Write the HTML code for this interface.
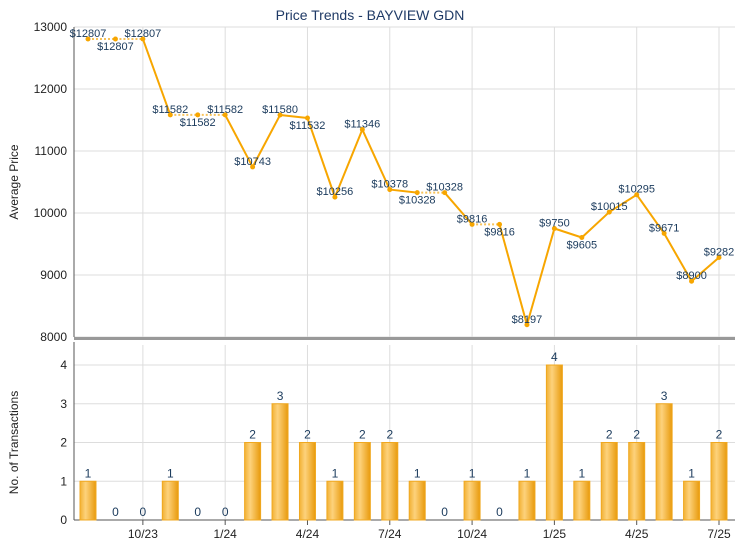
<!DOCTYPE html>
<html><head><meta charset="utf-8"><style>
body{margin:0;background:#fff;}
svg{font-family:"Liberation Sans",sans-serif;}
</style></head><body>
<svg id="c" width="740" height="550">
<defs>
<linearGradient id="bg" x1="0" x2="1" y1="0" y2="0">
<stop offset="0" stop-color="#f2b134"/><stop offset="0.35" stop-color="#fdd27c"/><stop offset="1" stop-color="#e89a0c"/>
</linearGradient>
</defs>
<g id="g"></g>
</svg>
<script>
const months=["8/23","9/23","10/23","11/23","12/23","1/24","2/24","3/24","4/24","5/24","6/24","7/24","8/24","9/24","10/24","11/24","12/24","1/25","2/25","3/25","4/25","5/25","6/25","7/25"];
const prices=[12807,12807,12807,11582,11582,11582,10743,11580,11532,10256,11346,10378,10328,10328,9816,9816,8197,9750,9605,10015,10295,9671,8900,9282];
const counts=[1,0,0,1,0,0,2,3,2,1,2,2,1,0,1,0,1,4,1,2,2,3,1,2];
const priceTicks=[8000,9000,10000,11000,12000,13000];
const countTicks=[0,1,2,3,4];
const xLabels=["10/23","1/24","4/24","7/24","10/24","1/25","4/25","7/25"];
const labelPos=["a","b","a","a","b","a","a","a","b","a","a","a","b","a","a","b","a","a","b","a","a","a","a","a"];

const NS="http://www.w3.org/2000/svg";
const g=document.getElementById('g');
function mk(t,a,p){const e=document.createElementNS(NS,t);for(const k in a)e.setAttribute(k,a[k]);(p||g).appendChild(e);return e;}
const L=74,R=735,x0=88,step=(719-88)/23;
const x=i=>x0+i*step;
const yP=v=>337-(v-8000)*62/1000;
const yC=v=>520-v*38.75;

let t=mk('text',{x:370,y:20,'text-anchor':'middle','font-size':14,fill:'#1f3a66'});t.textContent="Price Trends - BAYVIEW GDN";


priceTicks.forEach(v=>{mk('line',{x1:L,x2:R,y1:yP(v),y2:yP(v),stroke:'#ddd'});
let tt=mk('text',{x:L-7,y:yP(v)+4,'text-anchor':'end','font-size':12,fill:'#222'});tt.textContent=v;
});
countTicks.forEach(v=>{mk('line',{x1:L,x2:R,y1:yC(v),y2:yC(v),stroke:'#ddd'});
let tt=mk('text',{x:L-7,y:yC(v)+4,'text-anchor':'end','font-size':12,fill:'#222'});tt.textContent=v;
});
xLabels.forEach(lb=>{const i=months.indexOf(lb);const xx=x(i);
mk('line',{x1:xx,x2:xx,y1:27,y2:337,stroke:'#ddd'});mk('line',{x1:xx,x2:xx,y1:345,y2:520,stroke:'#ddd'});
mk('line',{x1:xx,x2:xx,y1:520,y2:525,stroke:'#555'});
let tt=mk('text',{x:xx,y:538,'text-anchor':'middle','font-size':12,fill:'#222'});tt.textContent=lb;
});
mk('line',{x1:L,x2:L,y1:27,y2:337,stroke:'#555'});
mk('line',{x1:L,x2:R,y1:338.5,y2:338.5,stroke:'#999','stroke-width':3});
mk('line',{x1:L,x2:L,y1:342,y2:520,stroke:'#555'});
mk('line',{x1:L,x2:R,y1:520,y2:520,stroke:'#555'});
t=mk('text',{x:0,y:0,'text-anchor':'middle','font-size':12,fill:'#222',transform:`translate(18,${(27+337)/2}) rotate(-90)`});t.textContent="Average Price";

t=mk('text',{x:0,y:0,'text-anchor':'middle','font-size':12,fill:'#222',transform:`translate(18,${(365+520)/2}) rotate(-90)`});t.textContent="No. of Transactions";


counts.forEach((c,i)=>{const xx=x(i);
if(c>0){let b=mk('rect',{x:xx-8,y:yC(c),width:16,height:yC(0)-yC(c),fill:'url(#bg)',stroke:'#f0a820','stroke-width':1});
}
let tt=mk('text',{x:xx,y:yC(c)-4,'text-anchor':'middle','font-size':12,fill:'#1a3a5c'});tt.textContent=c;
});

for(let i=0;i<prices.length-1;i++){const dotted=counts[i+1]===0;
let l=mk('line',{x1:x(i),y1:yP(prices[i]),x2:x(i+1),y2:yP(prices[i+1]),stroke:dotted?'#f7c35a':'#f7a600','stroke-width':2,'stroke-dasharray':dotted?'2,2':'none'});
}
prices.forEach((p,i)=>{let c=mk('circle',{cx:x(i),cy:yP(p),r:2.5,fill:'#f7a600'});

let tt=mk('text',{x:x(i),y:labelPos[i]==='a'?yP(p)-2:yP(p)+11,'text-anchor':'middle','font-size':11,fill:'#1a3a5c'});tt.textContent='$'+p;
});
</script>
</body></html>
